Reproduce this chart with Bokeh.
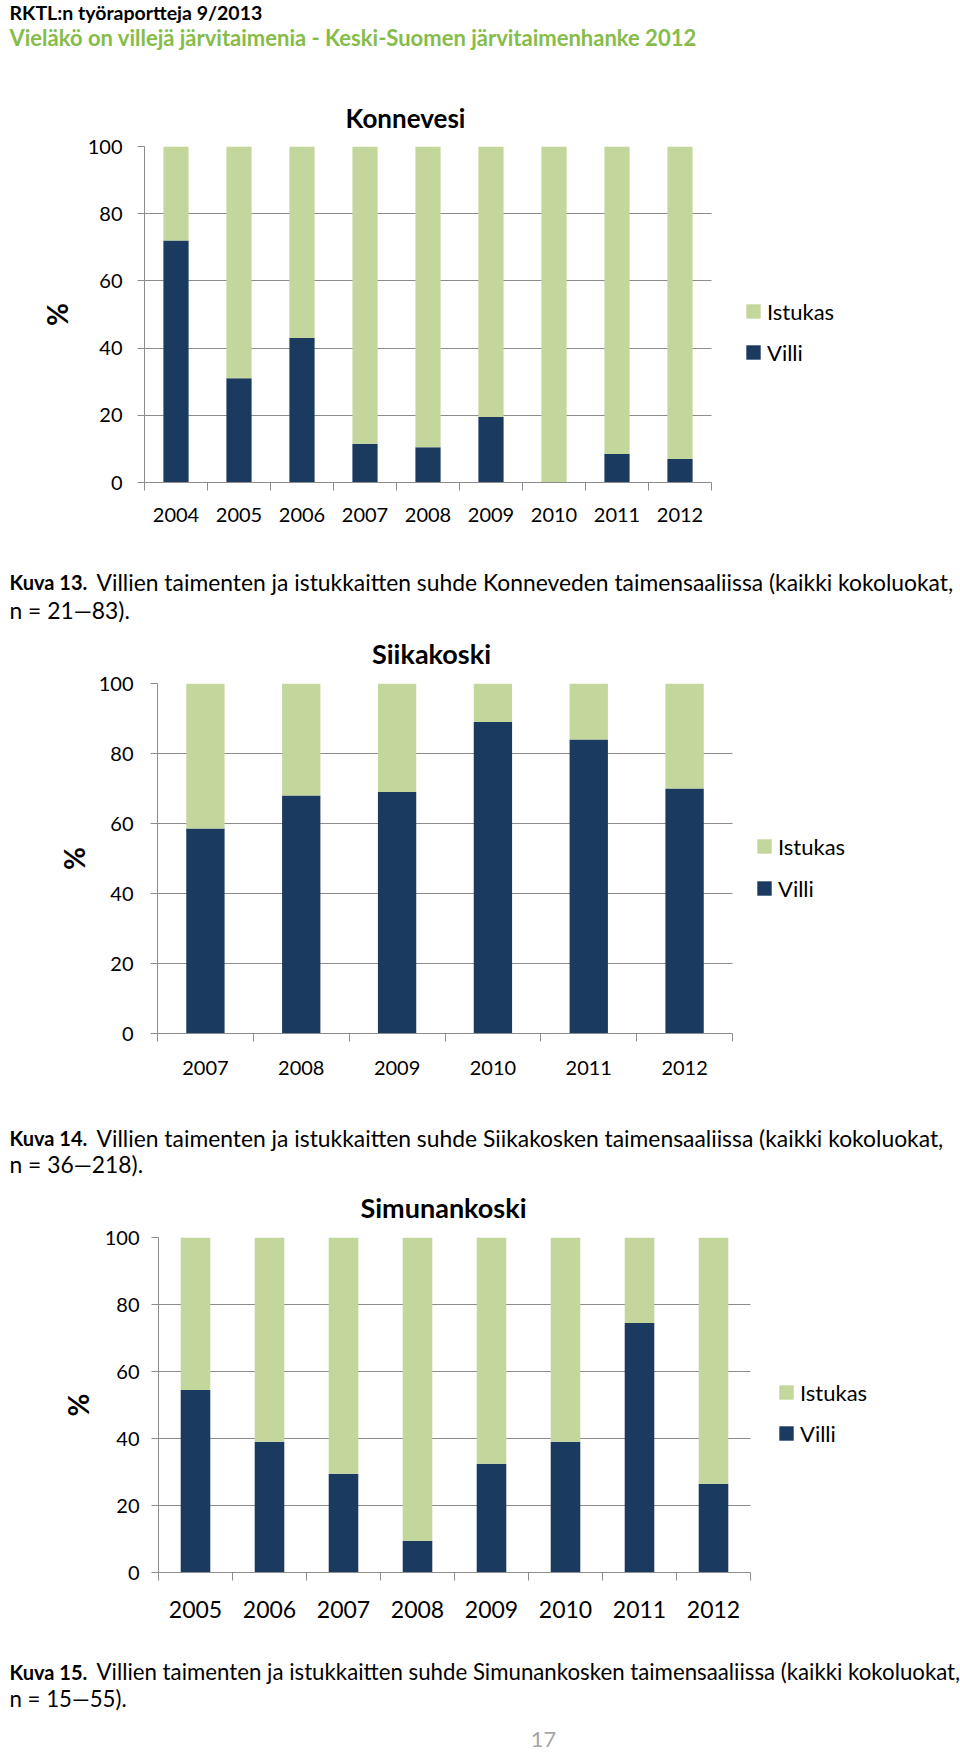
from bokeh.plotting import figure
from bokeh.models import (Range1d, LinearAxis, FixedTicker, Grid,
                          CustomJSTickFormatter, Legend, LegendItem, Label, ColumnDataSource)
from bokeh.layouts import column
from bokeh.embed import file_html
from bokeh.resources import INLINE

# ---------------- data ----------------
konne_years = ["2004", "2005", "2006", "2007", "2008", "2009", "2010", "2011", "2012"]
konne_villi = [72, 31, 43, 11.5, 10.5, 19.5, 0, 8.5, 7]

siika_years = ["2007", "2008", "2009", "2010", "2011", "2012"]
siika_villi = [58.6, 68, 69, 89, 84, 70]

simu_years = ["2005", "2006", "2007", "2008", "2009", "2010", "2011", "2012"]
simu_villi = [54.5, 39, 29.5, 9.5, 32.5, 39, 74.5, 26.5]

y_ticks = [0, 20, 40, 60, 80, 100]
series_names = ["Istukas", "Villi"]

header1 = "RKTL:n työraportteja 9/2013"
header2 = "Vieläkö on villejä järvitaimenia - Keski-Suomen järvitaimenhanke 2012"
captions = [
    ("Kuva 13.", "Villien taimenten ja istukkaitten suhde Konneveden taimensaaliissa (kaikki kokoluokat,", "n = 21\u201483)."),
    ("Kuva 14.", "Villien taimenten ja istukkaitten suhde Siikakosken taimensaaliissa (kaikki kokoluokat,", "n = 36\u2014218)."),
    ("Kuva 15.", "Villien taimenten ja istukkaitten suhde Simunankosken taimensaaliissa (kaikki kokoluokat,", "n = 15\u201455)."),
]
titles = ["Konnevesi", "Siikakoski", "Simunankoski"]
page_number = "17"

# ---------------- style ----------------
FONT = "Lato"
NAVY = "#1B3A5F"
GREEN = "#C3D69B"
GRID = "#8C8C8C"
HEAD_GREEN = "#86BC4A"
PAGE_W = 960
FRAME_R = 950
CAP_B_FS = "20px"


def text_fig(top, h):
    p = figure(width=PAGE_W, height=h, x_range=Range1d(0, PAGE_W), y_range=Range1d(h, 0),
               output_backend="svg", toolbar_location=None, x_axis_location=None,
               y_axis_location=None, title=None, min_border_left=0, min_border_right=0,
               min_border_top=0, min_border_bottom=0)
    p.frame_align = False
    p.outline_line_color = None
    p.xgrid.visible = False
    p.ygrid.visible = False

    def lab(text, X, Y, fs, style="normal", color="black", align="left"):
        p.add_layout(Label(x=X, y=Y - top, text=text, text_font=FONT, text_font_size=fs,
                           text_font_style=style, text_color=color, text_align=align,
                           text_baseline="alphabetic"))
    return p, lab


def make_chart(years, villi, page_top, L, R, T, B, bottom_h, tick_fs, xtick_fs,
               ylab_standoff, axis_label_standoff, xlab_standoff, legend_loc, legend_spacing):
    n = len(years)
    pos = [i + 0.5 for i in range(n)]          # category centres on a 0..n scale
    ist = [100 - v for v in villi]
    src = ColumnDataSource(dict(pos=pos, year=years, Villi=villi, Istukas=ist))
    fig_h = B - page_top + bottom_h
    x_end = n * (FRAME_R - L) / (R - L)          # frame extends right to hold the legend
    p = figure(width=PAGE_W, height=fig_h, x_range=Range1d(0, x_end),
               y_range=Range1d(0, 100), output_backend="svg", toolbar_location=None,
               x_axis_location=None, y_axis_location=None, title=None,
               min_border_left=L, min_border_right=PAGE_W - FRAME_R,
               min_border_top=T - page_top, min_border_bottom=bottom_h)
    p.frame_align = False
    p.outline_line_color = None
    p.background_fill_color = "white"
    p.border_fill_color = "white"
    p.xgrid.visible = False
    p.ygrid.visible = False

    # y axis
    yax = LinearAxis(ticker=FixedTicker(ticks=y_ticks))
    yax.axis_line_color = GRID
    yax.major_tick_line_color = GRID
    yax.major_tick_out = 7
    yax.major_tick_in = 0
    yax.minor_tick_line_color = None
    yax.major_label_text_font = FONT
    yax.major_label_text_font_size = tick_fs
    yax.major_label_text_color = "black"
    yax.major_label_standoff = ylab_standoff
    yax.axis_label = "%"
    yax.axis_label_text_font = FONT
    yax.axis_label_text_font_style = "bold"
    yax.axis_label_text_font_size = "28px"
    yax.axis_label_text_color = "black"
    yax.axis_label_standoff = axis_label_standoff
    p.add_layout(yax, "left")

    # x axis: tick marks at category boundaries
    bax = LinearAxis(ticker=FixedTicker(ticks=list(range(n + 1))), bounds=(0, n),
                     formatter=CustomJSTickFormatter(code="return ''"))
    bax.axis_line_color = GRID
    bax.major_tick_line_color = GRID
    bax.major_tick_out = 8
    bax.major_tick_in = 0
    bax.minor_tick_line_color = None
    bax.major_label_text_font_size = "0px"
    bax.major_label_standoff = 0
    p.add_layout(bax, "below")

    # x axis: year labels at category centres
    cax = LinearAxis(ticker=FixedTicker(ticks=pos), bounds=(0, n),
                     formatter=CustomJSTickFormatter(args=dict(labels=years),
                                                     code="return labels[Math.floor(tick)]"))
    cax.axis_line_color = None
    cax.major_tick_line_color = None
    cax.minor_tick_line_color = None
    cax.major_tick_out = 0
    cax.major_tick_in = 0
    cax.major_label_text_font = FONT
    cax.major_label_text_font_size = xtick_fs
    cax.major_label_text_color = "black"
    cax.major_label_standoff = xlab_standoff
    p.add_layout(cax, "below")

    # horizontal gridlines limited to the category span
    if "cross_bounds" in Grid.properties():
        g = Grid(dimension=1, ticker=FixedTicker(ticks=y_ticks), bounds=(0, 100),
                 cross_bounds=(0, n), grid_line_color=GRID, grid_line_width=1)
        p.add_layout(g)
    else:
        p.segment(x0=0, x1=n, y0=y_ticks[1:], y1=y_ticks[1:], line_color=GRID, line_width=1)

    rs = p.vbar_stack(["Villi", "Istukas"], x="pos", width=0.4, source=src,
                      color=[NAVY, GREEN], line_color=None)

    leg = Legend(items=[LegendItem(label=series_names[0], renderers=[rs[1]]),
                        LegendItem(label=series_names[1], renderers=[rs[0]])],
                 location=(legend_loc[0] - L, B - legend_loc[1]))
    leg.glyph_width = 18
    leg.glyph_height = 18
    leg.label_height = 18
    leg.label_standoff = 5
    leg.spacing = legend_spacing
    leg.padding = 0
    leg.margin = 0
    leg.border_line_color = None
    leg.background_fill_alpha = 0
    leg.label_text_font = FONT
    leg.label_text_font_size = "22px"
    leg.label_text_color = "black"
    p.add_layout(leg, "center")
    return p


# header + title 1 : page 0..134
t0, lab0 = text_fig(0, 134)
lab0(header1, 9, 11.5, "19.5px", style="bold")
lab0(header2, 9, 36.5, "22px", style="bold", color=HEAD_GREEN)
lab0(titles[0], 405, 117, "26px", style="bold", align="center")

# chart 1 : page 134..530
p1 = make_chart(konne_years, konne_villi, 134, 144, 711, 146, 482, 48,
                "20px", "20px", 15, 11, 17, (744, 365.5), 14)

# caption 1 + title 2 : page 530..671
t1, lab1 = text_fig(530, 141)
lab1(captions[0][0], 9, 581.5, CAP_B_FS, style="bold")
lab1(captions[0][1], 96, 581.5, "22.85px")
lab1(captions[0][2], 9, 609.5, "22.85px")
lab1(titles[1], 431, 653, "27px", style="bold", align="center")

# chart 2 : page 671..1090
p2 = make_chart(siika_years, siika_villi, 671, 157, 732, 683, 1033, 57,
                "20px", "20px", 17, 5, 19, (755, 901.5), 15)

# caption 2 + title 3 : page 1090..1225
t2, lab2 = text_fig(1090, 135)
lab2(captions[1][0], 9, 1137, CAP_B_FS, style="bold")
lab2(captions[1][1], 96, 1137, "22.85px")
lab2(captions[1][2], 9, 1163, "22.85px")
lab2(titles[2], 443, 1207, "27px", style="bold", align="center")

# chart 3 : page 1225..1630
p3 = make_chart(simu_years, simu_villi, 1225, 158, 750, 1237, 1572, 58,
                "20px", "23px", 12, 7, 20, (777, 1446.5), 14)

# caption 3 + page number : page 1630..1755
t3, lab3 = text_fig(1630, 125)
lab3(captions[2][0], 9, 1671, CAP_B_FS, style="bold")
lab3(captions[2][1], 96, 1671, "22.25px")
lab3(captions[2][2], 9, 1698, "22.25px")
lab3(page_number, 543, 1739, "22px", color="#A6A6A6", align="center")

layout = column(t0, p1, t1, p2, t2, p3, t3, spacing=0)
open("out.html", "w").write(file_html(layout, INLINE))
